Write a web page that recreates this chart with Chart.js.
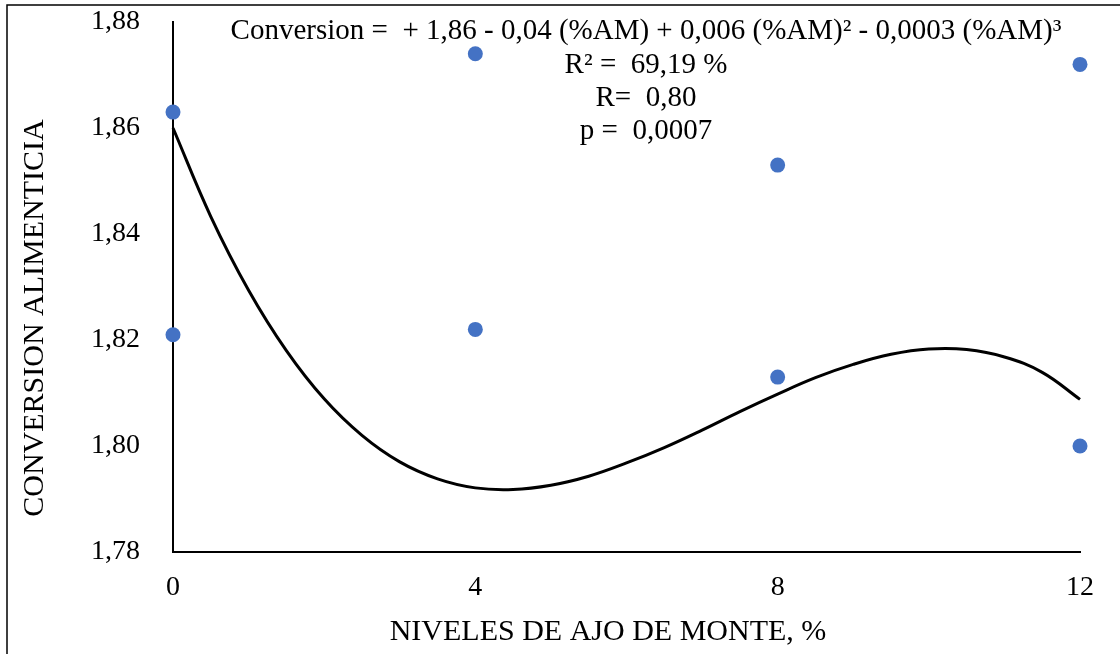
<!DOCTYPE html>
<html>
<head>
<meta charset="utf-8">
<script src="https://cdn.jsdelivr.net/npm/chart.js@4/dist/chart.umd.min.js"></script>
<style>
    body { margin: 0; background: #fff; }
    #wrap { width: 1120px; height: 654px; }
</style>
</head>
<body>
<div id="wrap"><canvas id="myChart" width="1120" height="654"></canvas></div>
<script>
// observed points: level of garlic (%) and feed conversion
let niveles = [0, 0, 4, 4, 8, 8, 12, 12];
let conversion = [1.863, 1.821, 1.874, 1.822, 1.853, 1.813, 1.872, 1.800];

// cubic trend line, every half unit
let curvaX = [0, 0.5, 1, 1.5, 2, 2.5, 3, 3.5, 4, 4.5, 5, 5.5, 6, 6.5, 7, 7.5, 8, 8.5, 9, 9.5, 10, 10.5, 11, 11.5, 12];
let curvaY = [1.8600, 1.8433, 1.8294, 1.8180, 1.8089, 1.8020, 1.7970, 1.7938, 1.7921, 1.7918, 1.7926, 1.7943,
    1.7968, 1.7997, 1.8030, 1.8065, 1.8098, 1.8129, 1.8154, 1.8173, 1.8183, 1.8182, 1.8168, 1.8139, 1.8088];

let xTicks = [0, 4, 8, 12];
let yTicks = [1.78, 1.80, 1.82, 1.84, 1.86, 1.88];

let tituloX = 'NIVELES DE AJO DE MONTE, %';
let tituloY = 'CONVERSION ALIMENTICIA';
let ecuacion = [
    'Conversion =  + 1,86 - 0,04 (%AM) + 0,006 (%AM)\u00b2 - 0,0003 (%AM)\u00b3',
    'R\u00b2 =  69,19 %',
    'R=  0,80',
    'p =  0,0007'
];

let fuente = '"Liberation Serif", "Times New Roman", serif';

let puntos = [];
for (let i = 0; i < niveles.length; i++) {
    puntos.push({ x: niveles[i], y: conversion[i] });
}
let curva = [];
for (let i = 0; i < curvaX.length; i++) {
    curva.push({ x: curvaX[i], y: curvaY[i] });
}

let textos = {
    id: 'textos',
    beforeDraw(chart) {
        let ctx = chart.ctx;
        ctx.save();
        ctx.strokeStyle = '#000';
        ctx.lineWidth = 1.5;
        ctx.beginPath();
        ctx.moveTo(7, 654);
        ctx.lineTo(7, 5);
        ctx.lineTo(1120, 5);
        ctx.stroke();
        ctx.restore();
    },
    afterDraw(chart) {
        let ctx = chart.ctx;
        ctx.save();
        ctx.fillStyle = '#000';
        ctx.textAlign = 'center';
        ctx.textBaseline = 'middle';
        ctx.font = '29px ' + fuente;
        let lineasY = [31, 65, 98, 131];
        for (let i = 0; i < ecuacion.length; i++) {
            ctx.fillText(ecuacion[i], 646, lineasY[i]);
        }
        ctx.font = '30px ' + fuente;
        ctx.fillText(tituloX, 608, 632);
        ctx.translate(35, 318);
        ctx.rotate(-Math.PI / 2);
        ctx.fillText(tituloY, 0, 0);
        ctx.restore();
    }
};

let ctx = document.getElementById('myChart').getContext('2d');
new Chart(ctx, {
    type: 'scatter',
    data: {
        datasets: [{
            data: curva,
            showLine: true,
            borderColor: '#000',
            borderWidth: 3,
            pointRadius: 0,
            tension: 0.4,
            clip: false,
            order: 2
        }, {
            data: puntos,
            backgroundColor: '#4472C4',
            borderWidth: 0,
            pointRadius: 7.5,
            clip: false,
            order: 1
        }]
    },
    options: {
        responsive: false,
        animation: false,
        layout: { padding: { top: 22, right: 40, left: 0, bottom: 0 } },
        plugins: { legend: { display: false }, tooltip: { enabled: false } },
        scales: {
            x: {
                type: 'linear',
                min: 0,
                max: 12,
                afterFit(scale) {
                    scale.height = 102;
                    scale.paddingLeft = 0;
                    scale.paddingRight = 0;
                },
                afterBuildTicks(scale) { scale.ticks = xTicks.map(v => ({ value: v })); },
                grid: { display: false, drawTicks: false },
                border: { display: true, color: '#000', width: 2 },
                ticks: {
                    padding: 19,
                    color: '#000',
                    font: { family: fuente, size: 28 }
                }
            },
            y: {
                min: 1.78,
                max: 1.88,
                afterFit(scale) {
                    scale.width = 173;
                    scale.paddingTop = 0;
                    scale.paddingBottom = 0;
                },
                afterBuildTicks(scale) { scale.ticks = yTicks.map(v => ({ value: v })); },
                grid: { display: false, drawTicks: false },
                border: { display: true, color: '#000', width: 2 },
                ticks: {
                    padding: 33,
                    color: '#000',
                    font: { family: fuente, size: 28 },
                    callback: v => v.toFixed(2).replace('.', ',')
                }
            }
        }
    },
    plugins: [textos]
});
</script>
</body>
</html>
